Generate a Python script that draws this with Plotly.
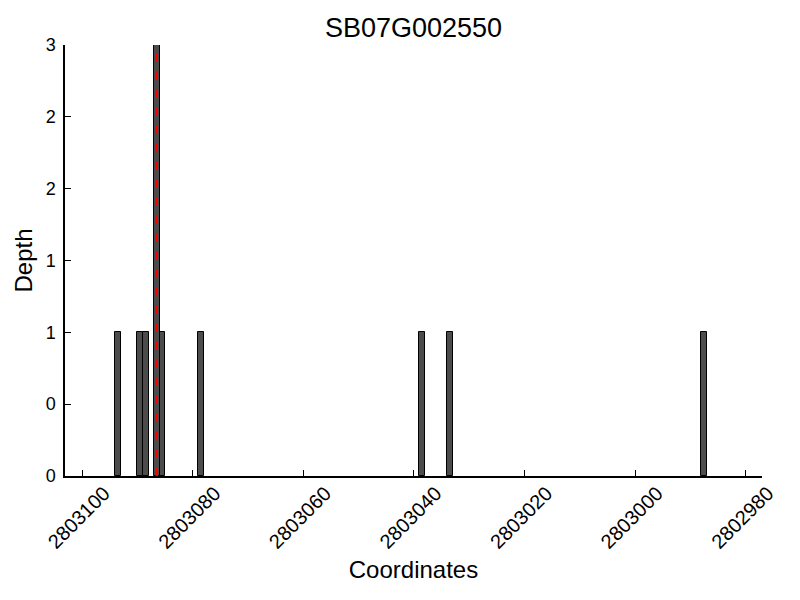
import plotly.graph_objects as go

# read depth per coordinate (bar spans coord .. coord+1)
coords = [2803093, 2803089, 2803088, 2803086, 2803085, 2803078,
          2803038, 2803033, 2802987]
depths = [1, 1, 1, 3, 1, 1, 1, 1, 1]
marker_pos = 2803086.5
x_range = [2803103.1, 2802977.05]
x_ticks = [2803100, 2803080, 2803060, 2803040, 2803020, 2803000, 2802980]
y_ticks = [0, 0.5, 1, 1.5, 2, 2.5, 3]
y_ticklabels = ["0", "0", "1", "1", "2", "2", "3"]
gene_name = "SB07G002550"

FONT = "Liberation Sans, Arial, Helvetica, sans-serif"

fig = go.Figure(go.Bar(
    x=coords, y=depths, width=1, offset=0,
    marker=dict(color="#4c4c4c", line=dict(color="black", width=1)),
    showlegend=False,
))
fig.add_shape(type="line", xref="x", yref="y",
              x0=marker_pos, x1=marker_pos, y0=0, y1=3,
              line=dict(color="red", width=2.5, dash="dash"))

fig.update_layout(
    width=800, height=600,
    paper_bgcolor="white", plot_bgcolor="white",
    font=dict(family=FONT, color="black", size=18),
    margin=dict(l=65, r=38, t=45, b=124),
    title=dict(text=gene_name, x=0.5, xanchor="center", xref="paper",
               y=1 - 28 / 600, yref="container", yanchor="middle",
               font=dict(size=27)),
    bargap=0,
)
# axis is reversed, so a negative shift moves labels to the right on screen
fig.update_xaxes(
    range=x_range, showgrid=False, zeroline=False,
    showline=True, linecolor="black", linewidth=1.5,
    ticks="inside", ticklen=6, tickcolor="black",
    tickvals=x_ticks, ticktext=[str(t) for t in x_ticks],
    tickangle=-45, ticklabelshift=-22, ticklabelstandoff=-4,
    tickfont=dict(size=20),
    title=dict(text="Coordinates", font=dict(size=24), standoff=9),
)
fig.update_yaxes(
    range=[0, 3], showgrid=False, zeroline=False,
    showline=True, linecolor="black", linewidth=1.5,
    ticks="inside", ticklen=6, tickcolor="black",
    tickvals=y_ticks, ticktext=y_ticklabels, tickfont=dict(size=18),
    ticklabelstandoff=4,
    title=dict(text="Depth", font=dict(size=24), standoff=6),
)

fig.write_html("out.html", config={"displayModeBar": False},
               post_script="document.body.style.margin='0';")
